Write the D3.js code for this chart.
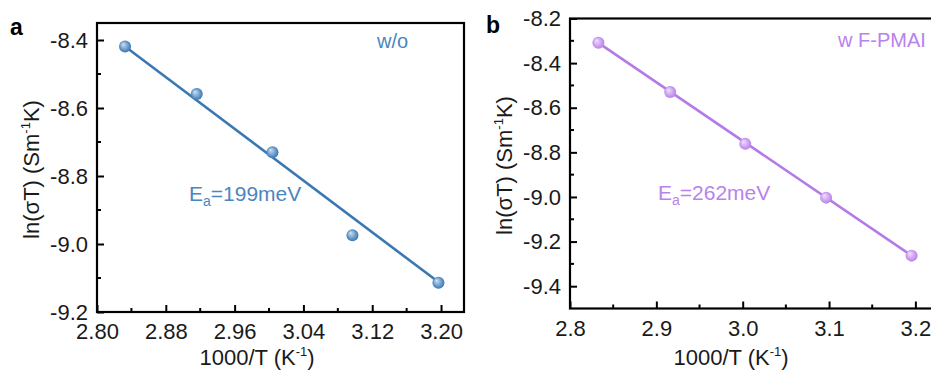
<!DOCTYPE html>
<html>
<head>
<meta charset="utf-8">
<script src="https://cdn.jsdelivr.net/npm/d3@7"></script>
<style>
  body { margin: 0; background: #fff; }
  svg { display: block; font-family: Arial, "Liberation Sans", sans-serif; }
</style>
</head>
<body>
<svg id="chart" width="931" height="373"></svg>
<script>
// panel a (w/o)
var xA = [2.8326, 2.916, 3.004, 3.097, 3.197];
var yA = [-8.419, -8.559, -8.730, -8.974, -9.114];
var fitAx = [2.8326, 3.197];
var fitAy = [-8.419, -9.112];
var xTicksA = [2.80, 2.88, 2.96, 3.04, 3.12, 3.20];
var yTicksA = [-9.2, -9.0, -8.8, -8.6, -8.4];

// panel b (w F-PMAI)
var xB = [2.8329, 2.916, 3.003, 3.0966, 3.1956];
var yB = [-8.309, -8.530, -8.762, -9.003, -9.263];
var fitBx = [2.8329, 3.1956];
var fitBy = [-8.309, -9.263];
var xTicksB = [2.8, 2.9, 3.0, 3.1, 3.2];
var yTicksB = [-9.4, -9.2, -9.0, -8.8, -8.6, -8.4, -8.2];

var svg = d3.select("#chart");
var defs = svg.append("defs");

function ball(id, light, dark) {
    var g = defs.append("radialGradient").attr("id", id)
        .attr("cx", "50%").attr("cy", "50%").attr("r", "55%")
        .attr("fx", "32%").attr("fy", "30%");
    g.append("stop").attr("offset", "0%").attr("stop-color", light);
    g.append("stop").attr("offset", "100%").attr("stop-color", dark);
}
ball("ballA", "#cfe3f7", "#2f6fae");
ball("ballB", "#f1e2ff", "#b47ae8");

function panel(o) {
    var x = d3.scaleLinear().domain(o.xDomain).range([o.left, o.right]);
    var y = d3.scaleLinear().domain(o.yDomain).range([o.bottom, o.top]);
    var g = svg.append("g");

    // minor ticks halfway between the major ones
    var xStep = o.xTicks[1] - o.xTicks[0];
    var yStep = o.yTicks[1] - o.yTicks[0];
    var xMinor = o.xTicks.map(function(d) { return d + xStep / 2; })
        .filter(function(d) { return d < o.xDomain[1]; });
    var yMinor = o.yTicks.map(function(d) { return d + yStep / 2; })
        .filter(function(d) { return d < o.yDomain[1]; });

    var xAxis = d3.axisBottom(x).tickValues(o.xTicks).tickSizeInner(-7).tickSizeOuter(0)
        .tickPadding(12).tickFormat(o.xFmt);
    var gx = g.append("g").attr("transform", "translate(0," + o.bottom + ")").call(xAxis);
    gx.select(".domain").remove();
    gx.selectAll(".tick line").attr("stroke", "#000").attr("stroke-width", 2);
    gx.selectAll("text").attr("font-size", 22).attr("fill", "#1a1a1a").attr("dy", "0.70em");

    g.selectAll(".xminor").data(xMinor).enter().append("line")
        .attr("x1", d => x(d)).attr("x2", d => x(d))
        .attr("y1", o.bottom).attr("y2", o.bottom - 4)
        .attr("stroke", "#000").attr("stroke-width", 2);

    var yAxis = d3.axisLeft(y).tickValues(o.yTicks).tickSizeInner(-7).tickSizeOuter(0)
        .tickPadding(9);
    var gy = g.append("g").attr("transform", "translate(" + o.left + ",0)").call(yAxis);
    gy.select(".domain").remove();
    gy.selectAll(".tick line").attr("stroke", "#000").attr("stroke-width", 2);
    gy.selectAll("text").attr("font-size", 22).attr("fill", "#1a1a1a")
        .text(function(d) { return d.toFixed(1); });

    g.selectAll(".yminor").data(yMinor).enter().append("line")
        .attr("x1", o.left).attr("x2", o.left + 4)
        .attr("y1", d => y(d)).attr("y2", d => y(d))
        .attr("stroke", "#000").attr("stroke-width", 2);

    // frame
    g.append("rect")
        .attr("x", o.left).attr("y", o.top)
        .attr("width", o.right - o.left).attr("height", o.bottom - o.top)
        .attr("fill", "none").attr("stroke", "#000").attr("stroke-width", 2.2);

    // fit line
    var fit = o.fitX.map(function(d, i) { return [d, o.fitY[i]]; });
    g.append("path")
        .datum(fit)
        .attr("d", d3.line().x(d => x(d[0])).y(d => y(d[1])))
        .attr("fill", "none").attr("stroke", o.color).attr("stroke-width", 2.6);

    // points
    var pts = o.xs.map(function(d, i) { return [d, o.ys[i]]; });
    g.selectAll(".pt").data(pts).enter().append("circle")
        .attr("cx", d => x(d[0])).attr("cy", d => y(d[1]))
        .attr("r", 6)
        .attr("fill", "url(#" + o.ball + ")");

    // panel letter
    svg.append("text").attr("x", o.letterX).attr("y", o.letterY)
        .attr("font-size", 23).attr("font-weight", "bold").attr("fill", "#000")
        .text(o.letter);

    // sample label
    svg.append("text").attr("x", o.tagX).attr("y", o.tagY)
        .attr("font-size", 20).attr("fill", o.textColor).text(o.tag);

    // activation energy
    var ea = svg.append("text").attr("x", o.eaX).attr("y", o.eaY)
        .attr("font-size", 21).attr("fill", o.textColor);
    ea.append("tspan").text("E");
    ea.append("tspan").attr("font-size", 14).attr("dy", 5).text("a");
    ea.append("tspan").attr("dy", -5).text("=" + o.ea);

    // axis titles
    var xt = svg.append("text").attr("x", o.xTitleX).attr("y", 365)
        .attr("text-anchor", "middle").attr("font-size", 22).attr("fill", "#1a1a1a");
    xt.append("tspan").text("1000/T (K");
    xt.append("tspan").attr("font-size", 13).attr("dy", -9).text("-1");
    xt.append("tspan").attr("dy", 9).text(")");

    var yt = svg.append("text")
        .attr("transform", "translate(" + o.yTitleX + "," + ((o.top + o.bottom) / 2 + 2) + ") rotate(-90)")
        .attr("text-anchor", "middle").attr("font-size", 22).attr("fill", "#1a1a1a");
    yt.append("tspan").text("ln(\u03c3T) (Sm");
    yt.append("tspan").attr("font-size", 13).attr("dy", -9).text("-1");
    yt.append("tspan").attr("dy", 9).text("K)");
}

panel({
    xDomain: [2.80, 3.2267], yDomain: [-9.2, -8.35],
    left: 97, right: 464, top: 23, bottom: 312,
    xTicks: xTicksA, yTicks: yTicksA, xFmt: d3.format(".2f"),
    xs: xA, ys: yA, fitX: fitAx, fitY: fitAy,
    color: "#3a78b4", textColor: "#4a86c2", ball: "ballA",
    letter: "a", letterX: 10, letterY: 35,
    tag: "w/o", tagX: 377, tagY: 48,
    ea: "199meV", eaX: 189, eaY: 201,
    xTitleX: 257, yTitleX: 39
});

panel({
    xDomain: [2.8, 3.2285], yDomain: [-9.5, -8.2],
    left: 570, right: 940, top: 18.5, bottom: 308.5,
    xTicks: xTicksB, yTicks: yTicksB, xFmt: d3.format(".1f"),
    xs: xB, ys: yB, fitX: fitBx, fitY: fitBy,
    color: "#b47ae8", textColor: "#b982ec", ball: "ballB",
    letter: "b", letterX: 486, letterY: 33,
    tag: "w F-PMAI", tagX: 838, tagY: 47,
    ea: "262meV", eaX: 658, eaY: 200,
    xTitleX: 731, yTitleX: 512
});
</script>
</body>
</html>
